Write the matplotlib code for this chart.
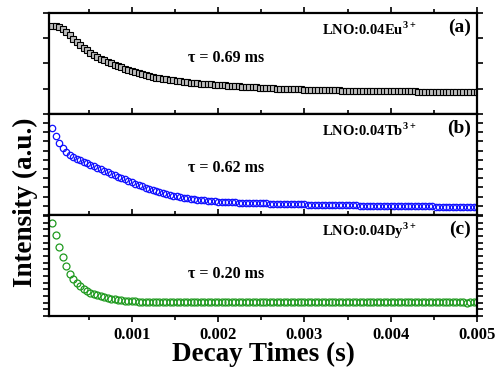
import numpy as np
import matplotlib
matplotlib.use("Agg")
import matplotlib.pyplot as plt
from matplotlib.ticker import MultipleLocator, NullFormatter

plt.rcParams['font.family'] = ['Liberation Serif', 'DejaVu Serif']
plt.rcParams['font.weight'] = 'bold'
plt.rcParams['mathtext.fontset'] = 'custom'
plt.rcParams['mathtext.rm'] = 'Liberation Serif:bold'
plt.rcParams['mathtext.bf'] = 'Liberation Serif:bold'

# time base: 0.04 ms channels, starting at 0.08 ms
t0 = 0.00008
dt = 0.00004

# normalised decay intensities (a.u.)
eu = [0.870, 0.868, 0.860, 0.845, 0.815, 0.780, 0.745, 0.715, 0.680, 0.655,
      0.630, 0.605, 0.585, 0.565, 0.548, 0.532, 0.516, 0.502, 0.488, 0.474,
      0.461, 0.448, 0.436, 0.425, 0.414, 0.404, 0.394, 0.385, 0.376, 0.368,
      0.361, 0.354, 0.348, 0.342, 0.337, 0.332, 0.327, 0.322, 0.318, 0.314,
      0.310, 0.307, 0.304, 0.301, 0.298, 0.295, 0.292, 0.290, 0.287, 0.285,
      0.283, 0.280, 0.278, 0.276, 0.274, 0.272, 0.270, 0.268, 0.266, 0.264,
      0.262, 0.260, 0.258, 0.256, 0.254, 0.252, 0.251, 0.250, 0.248, 0.247,
      0.246, 0.244, 0.243, 0.242, 0.241, 0.240, 0.239, 0.238, 0.237, 0.236,
      0.235, 0.234, 0.234, 0.233, 0.232, 0.232, 0.231, 0.230, 0.230, 0.229,
      0.229, 0.228, 0.228, 0.227, 0.227, 0.226, 0.226, 0.225, 0.225, 0.225,
      0.224, 0.224, 0.224, 0.223, 0.223, 0.223, 0.222, 0.222, 0.222, 0.222,
      0.221, 0.221, 0.221, 0.221, 0.220, 0.220, 0.220, 0.220, 0.220, 0.219,
      0.219, 0.219, 0.219, 0.219]

tb = [0.860, 0.780, 0.715, 0.665, 0.625, 0.595, 0.572, 0.555, 0.540, 0.526,
      0.512, 0.498, 0.484, 0.469, 0.455, 0.440, 0.425, 0.410, 0.395, 0.381,
      0.366, 0.352, 0.338, 0.324, 0.310, 0.297, 0.284, 0.272, 0.260, 0.248,
      0.237, 0.227, 0.217, 0.208, 0.200, 0.192, 0.185, 0.178, 0.172, 0.166,
      0.161, 0.156, 0.152, 0.148, 0.144, 0.141, 0.138, 0.135, 0.133, 0.131,
      0.129, 0.127, 0.125, 0.124, 0.122, 0.121, 0.120, 0.119, 0.118, 0.117,
      0.116, 0.115, 0.114, 0.113, 0.112, 0.111, 0.110, 0.109, 0.108, 0.107,
      0.106, 0.105, 0.104, 0.104, 0.103, 0.102, 0.101, 0.101, 0.100, 0.099,
      0.098, 0.098, 0.097, 0.097, 0.096, 0.096, 0.095, 0.094, 0.094, 0.093,
      0.093, 0.092, 0.092, 0.091, 0.091, 0.090, 0.090, 0.089, 0.089, 0.089,
      0.088, 0.088, 0.087, 0.087, 0.087, 0.086, 0.086, 0.086, 0.085, 0.085,
      0.085, 0.084, 0.084, 0.084, 0.083, 0.083, 0.083, 0.082, 0.082, 0.082,
      0.082, 0.081, 0.081, 0.081]

dy = [0.920, 0.800, 0.680, 0.580, 0.490, 0.420, 0.370, 0.330, 0.295, 0.270,
      0.250, 0.232, 0.217, 0.204, 0.193, 0.184, 0.176, 0.170, 0.164, 0.160,
      0.156, 0.152, 0.149, 0.147, 0.145, 0.143, 0.142, 0.141, 0.140, 0.139,
      0.139, 0.138, 0.139, 0.138, 0.138, 0.137, 0.138, 0.138, 0.137, 0.138,
      0.137, 0.137, 0.138, 0.137, 0.137, 0.136, 0.137, 0.137, 0.136, 0.137,
      0.137, 0.136, 0.137, 0.136, 0.136, 0.137, 0.136, 0.136, 0.137, 0.136,
      0.136, 0.136, 0.137, 0.136, 0.136, 0.135, 0.136, 0.136, 0.136, 0.135,
      0.136, 0.136, 0.135, 0.136, 0.136, 0.135, 0.136, 0.135, 0.136, 0.135,
      0.135, 0.136, 0.135, 0.135, 0.136, 0.135, 0.135, 0.135, 0.136, 0.135,
      0.135, 0.135, 0.134, 0.135, 0.135, 0.135, 0.134, 0.135, 0.135, 0.134,
      0.135, 0.135, 0.134, 0.135, 0.134, 0.135, 0.134, 0.134, 0.135, 0.134,
      0.134, 0.135, 0.134, 0.134, 0.134, 0.135, 0.134, 0.134, 0.134, 0.134,
      0.133, 0.134, 0.134, 0.134]

samples = ["LNO:0.04Eu$^{3+}$", "LNO:0.04Tb$^{3+}$", "LNO:0.04Dy$^{3+}$"]
panel_tags = ["(a)", "(b)", "(c)"]
lifetimes = ["0.69", "0.62", "0.20"]
xticks = [0.001, 0.002, 0.003, 0.004, 0.005]
xticklabels = ["0.001", "0.002", "0.003", "0.004", "0.005"]

t = t0 + dt * np.arange(len(eu))

fig = plt.figure(figsize=(4.97, 3.67), dpi=100)
left, right, bottom, top = 0.0986, 0.9598, 0.139, 0.9646
h = (top - bottom) / 3
axes = [fig.add_axes([left, top - (i + 1) * h, right - left, h]) for i in range(3)]

styles = [
    dict(marker='s', ms=4.3, mfc='#bdbdbd', mec='black', mew=0.8),
    dict(marker='o', ms=4.6, mfc='none', mec='#1010ff', mew=0.9),
    dict(marker='o', ms=5.0, mfc='none', mec='#1f9a1f', mew=0.9),
]
ysteps = [0.25, 0.091, 0.066]
tau_y = [0.55, 0.47, 0.42]

for ax, y, st, lab, tag, tau, ys, ty in zip(axes, [eu, tb, dy], styles, samples,
                                            panel_tags, lifetimes, ysteps, tau_y):
    ax.plot(t, y, ls='none', **st)
    ax.set_xlim(0.00004, 0.005)
    ax.set_ylim(0, 1)
    ax.xaxis.set_major_locator(MultipleLocator(0.001))
    ax.xaxis.set_minor_locator(MultipleLocator(0.0005))
    ax.yaxis.set_major_locator(MultipleLocator(ys))
    ax.yaxis.set_major_formatter(NullFormatter())
    ax.tick_params(which='both', direction='out', top=True, right=True, width=1.2)
    ax.tick_params(which='major', length=4)
    ax.tick_params(which='minor', length=3)
    for sp in ax.spines.values():
        sp.set_linewidth(1.6)
    ax.text(0.637, 0.84, lab, transform=ax.transAxes, fontsize=10.5,
            fontweight='bold', ha='left', va='center')
    ax.text(0.985, 0.86, tag, transform=ax.transAxes, fontsize=14,
            fontweight='bold', ha='right', va='center')
    ax.text(0.325, ty, "\u03c4 = " + tau + " ms", transform=ax.transAxes,
            fontsize=11.5, fontweight='bold', ha='left', va='center')

for ax in axes[:2]:
    ax.xaxis.set_major_formatter(NullFormatter())

axes[2].set_xticks(xticks)
axes[2].set_xticklabels(xticklabels, fontsize=12, fontweight='bold')
axes[2].tick_params(axis='x', which='major', pad=4)
axes[2].set_xlabel("Decay Times (s)", fontsize=19.5, fontweight='bold')
axes[2].xaxis.set_label_coords(0.5, -0.255)
fig.text(0.052, 0.449, "Intensity (a.u.)", rotation=90, fontsize=19.5,
         fontweight='bold', ha='center', va='center')

fig.savefig("out.png", dpi=100)
